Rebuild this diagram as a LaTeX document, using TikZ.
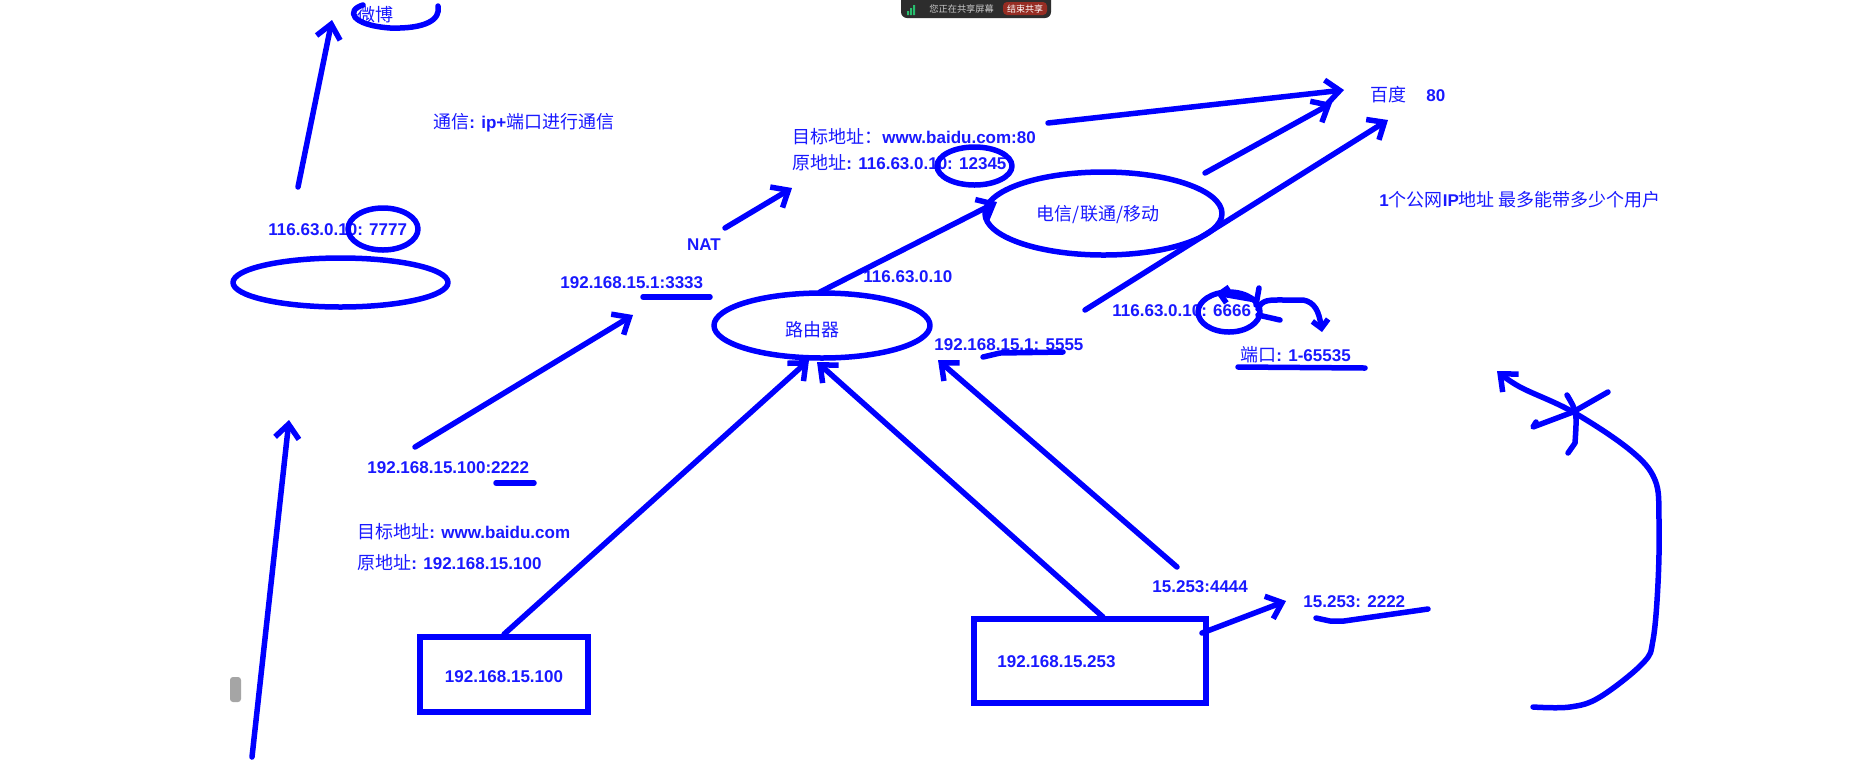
\documentclass[tikz,border=0pt]{standalone}
\usepackage{fontspec}
\setmainfont{Liberation Sans}
\newfontfamily\cjk{Noto Sans CJK SC}
\usetikzlibrary{arrows.meta,shapes.geometric}
\definecolor{pen}{RGB}{0,0,255}
\definecolor{ink}{RGB}{25,25,255}
\definecolor{barbg}{RGB}{45,45,45}
\definecolor{barred}{RGB}{150,45,35}
\definecolor{bargreen}{RGB}{40,190,110}
\definecolor{bartext}{RGB}{200,200,200}
\definecolor{tabgray}{RGB}{165,165,165}
\newcommand\zh[1]{{\mdseries\cjk\fontsize{9}{10}\selectfont #1}}
\begin{document}
\begin{tikzpicture}[x=0.5pt,y=-0.5pt,
  penline/.style={draw=pen,line width=2.75pt,line cap=round,line join=round},
  arr/.style={penline,-{Straight Barb[length=7pt,width=12pt]}},
  arrsmall/.style={penline,-{Straight Barb[length=4pt,width=8pt]}},
  lbl/.style={text=ink,font=\bfseries\fontsize{8.5}{10}\selectfont,inner sep=0pt,anchor=west},
  oval/.style={penline,ellipse,inner sep=0pt},
  boxnode/.style={draw=pen,line width=2.75pt,rectangle,inner sep=0pt},
]
\fill[white] (0,0) rectangle (1850,783);
\useasboundingbox (0,0) rectangle (1850,783);

% ---- screen-share bar and side tab
\fill[barbg,rounded corners=3pt] (901,-6) rectangle (1051,18);
\fill[bargreen] (907,11) rectangle (909,15) (910,8) rectangle (912,15) (913,5) rectangle (915,15);
\node[text=bartext,font=\cjk\fontsize{4.6}{5}\selectfont,inner sep=0pt,anchor=west] (sharetxt) at (929,9) {您正在共享屏幕};
\fill[barred,rounded corners=2pt] (1003,2) rectangle (1047,15);
\node[text=white,font=\cjk\fontsize{4.5}{5}\selectfont,inner sep=0pt] (stoptxt) at (1025,9) {结束共享};
\fill[tabgray,rounded corners=1.5pt] (230,677) rectangle (241,702);

% ---- shapes
\node[oval,minimum width=107.5pt,minimum height=24.5pt] (leftoval) at (340.5,282.5) {};
\node[oval,minimum width=108pt,minimum height=32.5pt] (router) at (822,325.5) {};
\node[lbl,anchor=center] (routerlbl) at (812,330) {\zh{路由器}};
\node[oval,minimum width=118.5pt,minimum height=41.5pt] (isp) at (1103.5,213.5) {};
\node[lbl,anchor=center] (isplbl) at (1098,215) {\zh{电信/联通/移动}};
\node[boxnode,minimum width=84pt,minimum height=37.5pt] (hostA) at (504,674.5) {};
\node[lbl,anchor=center] (hostAlbl) at (504,677) {192.168.15.100};
\node[boxnode,minimum width=116pt,minimum height=42pt] (hostB) at (1090,661) {};
\node[lbl] (hostBlbl) at (997,662) {192.168.15.253};

% ---- texts
\node[lbl] (weibo) at (357,15) {\zh{微博}};
\node[lbl] (commtxt) at (433,123) {\zh{通信}: ip+\zh{端口进行通信}};
\node[lbl] (p7777) at (268,230) {116.63.0.10: 7777};
\node[lbl] (dst80) at (792,137) {\zh{目标地址：}www.baidu.com:80};
\node[lbl] (src12345) at (792,163) {\zh{原地址}: 116.63.0.10: 12345};
\node[lbl,anchor=center] (nat) at (704,245) {NAT};
\node[lbl] (p3333) at (560,283) {192.168.15.1:3333};
\node[lbl] (pubip) at (863,277) {116.63.0.10};
\node[lbl] (baidu) at (1370,95) {\zh{百度}\hspace{10pt}80};
\node[lbl] (question) at (1379,200) {1\zh{个公网}IP\zh{地址 最多能带多少个用户}};
\node[lbl] (p6666) at (1112,311) {116.63.0.10: 6666};
\node[lbl] (ports) at (1240,355) {\zh{端口}: 1-65535};
\node[lbl] (p5555) at (934,345) {192.168.15.1: 5555};
\node[lbl] (p2222) at (367,468) {192.168.15.100:2222};
\node[lbl] (dstbaidu) at (357,532) {\zh{目标地址}: www.baidu.com};
\node[lbl] (src100) at (357,563) {\zh{原地址}: 192.168.15.100};
\node[lbl] (p4444) at (1152,587) {15.253:4444};
\node[lbl] (p253) at (1303,602) {15.253: 2222};

% ---- free ends of connectors
\coordinate (leftbot) at (252,757);
\coordinate (lefttip) at (289,420);
\coordinate (wbstart) at (298,187);
\coordinate (wbtip) at (332,20);
\coordinate (s2222) at (415,447);
\coordinate (t3333) at (633,315);
\coordinate (natS) at (725,228);
\coordinate (natT) at (792,188);
\coordinate (rtTop) at (820,292);
\coordinate (ispIn) at (997,202);
\coordinate (topS) at (1048,123);
\coordinate (topT) at (1344,90);
\coordinate (ispOut) at (1205,173);
\coordinate (ispT) at (1332,103);
\coordinate (s6666) at (1085,310);
\coordinate (t6666) at (1388,120);
\coordinate (rtA) at (809,360);
\coordinate (rtB) at (817,362);
\coordinate (hostBtop) at (1103,617);
\coordinate (s4444) at (1177,567);
\coordinate (t5555) at (938,360);
\coordinate (hostBright) at (1202,633);
\coordinate (t253) at (1286,601);

% ---- connectors
\draw[arr] (leftbot) -- (lefttip);
\draw[arr] (wbstart) -- (wbtip);
\draw[arr] (s2222) -- (t3333);
\draw[arr] (natS) -- (natT);
\draw[arr] (rtTop) -- (ispIn);
\draw[arr] (topS) -- (topT);
\draw[arr] (ispOut) -- (ispT);
\draw[arr] (s6666) -- (t6666);
\draw[arr] (hostA.north) -- (rtA);
\draw[arr] (hostBtop) -- (rtB);
\draw[arr] (s4444) -- (t5555);
\draw[arr] (hostBright) -- (t253);

% ---- hand-drawn marks
\draw[penline] (363,5) .. controls (346,10) and (350,25) .. (390,28) .. controls (425,29) and (441,20) .. (438,6);
\draw[penline] (383,229) ellipse [x radius=17.5pt, y radius=10.5pt];
\draw[penline] (974.5,166) ellipse [x radius=18.75pt, y radius=9.5pt];
\draw[penline] (1229,312) ellipse [x radius=15.5pt, y radius=10pt];
\draw[arrsmall] (1256,300) -- (1216,293);
\draw[penline] (1259,288) -- (1256,305);
\draw[penline] (1258,315) -- (1280,320);
\draw[arrsmall] (1258,309) .. controls (1262,299) and (1270,300) .. (1285,300) -- (1303,300) .. controls (1315,302) and (1319,312) .. (1322,332);
\draw[penline] (496,483) -- (534,483);
\draw[penline] (643,297) -- (710,297);
\draw[penline] (983,357) -- (1000,353) -- (1063,352);
\draw[penline] (1238,367) -- (1365,368);
\draw[penline] (1316,618) -- (1330,621) -- (1344,621) -- (1428,609);

% ---- big curved arrow with cross
\draw[arr] plot[smooth,tension=0.6] coordinates {(1533,707) (1570,707) (1600,697) (1643,663) (1653,640) (1658,583) (1659,520) (1655,480) (1630,450) (1573,412) (1520,387) (1497,371)};
\draw[penline] (1567,395) .. controls (1577,412) .. (1575,443) -- (1568,453);
\draw[penline] (1608,392) -- (1573,412) -- (1533,427) -- (1536,422);
\end{tikzpicture}
\end{document}
